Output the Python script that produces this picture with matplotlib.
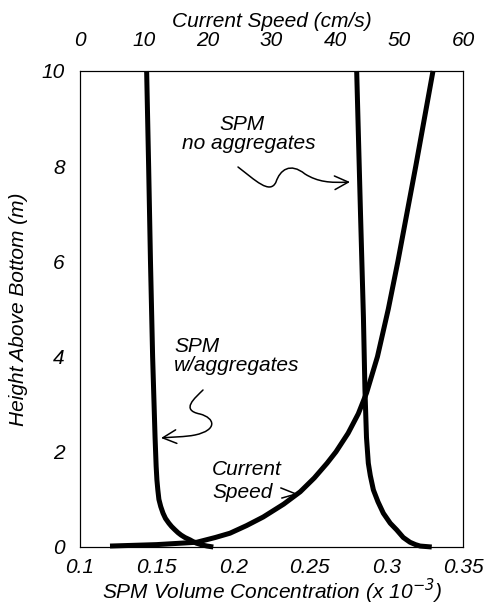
import matplotlib
matplotlib.use("Agg")
import matplotlib.pyplot as plt
from matplotlib.path import Path
from matplotlib.patches import FancyArrowPatch

plt.rcParams['font.family'] = ['Liberation Sans', 'DejaVu Sans']
plt.rcParams['font.style'] = 'italic'

# ---- data ----
height_agg = [10, 8, 6, 4, 2.3, 1.7, 1.41, 1.2, 1.0, 0.85, 0.71, 0.6, 0.5, 0.43, 0.36, 0.3,
              0.25, 0.2, 0.15, 0.11, 0.08, 0.06, 0.04, 0.02, 0.0]
conc_agg = [0.1435, 0.1448, 0.146, 0.1474, 0.149, 0.1497, 0.1502, 0.1508, 0.1515, 0.1527,
            0.1542, 0.1558, 0.158, 0.1598, 0.162, 0.164, 0.166, 0.1685, 0.1718, 0.174,
            0.176, 0.178, 0.180, 0.183, 0.187]

height_noagg = [10, 7, 4.83, 3.3, 2.3, 1.76, 1.5, 1.2, 0.95, 0.71, 0.5, 0.36, 0.2, 0.1, 0.05, 0.02, 0.0]
conc_noagg = [0.2806, 0.2831, 0.285, 0.286, 0.2870, 0.2882, 0.2895, 0.2915, 0.2945, 0.298,
              0.3025, 0.3067, 0.311, 0.3154, 0.319, 0.322, 0.3296]

height_speed = [10, 8, 6, 5, 4, 3.24, 2.8, 2.39, 2.0, 1.76, 1.45, 1.16, 0.9, 0.63,
                0.45, 0.29, 0.2, 0.10, 0.05, 0.02]
speed = [55.3, 52.6, 49.8, 48.3, 46.6, 44.9, 43.6, 42.0, 40.1, 38.7, 36.7, 34.5, 31.9,
         28.7, 26.1, 23.5, 21.2, 18.3, 12.0, 4.7]

conc_ticks = [0.1, 0.15, 0.2, 0.25, 0.3, 0.35]
conc_ticklabels = ['0.1', '0.15', '0.2', '0.25', '0.3', '0.35']
speed_ticks = [0, 10, 20, 30, 40, 50, 60]
height_ticks = [0, 2, 4, 6, 8, 10]

FS = 15
W, H = 486, 607
fig = plt.figure(figsize=(W / 100, H / 100), dpi=100)
L, R, T, B = 80, 463, 71, 547
ax = fig.add_axes([L / W, (H - B) / H, (R - L) / W, (B - T) / H])

lw = 3.6
ax.plot(conc_agg, height_agg, color='black', lw=lw, clip_on=False, solid_capstyle='butt',
        solid_joinstyle='round')
ax.plot(conc_noagg, height_noagg, color='black', lw=lw, clip_on=False, solid_capstyle='butt',
        solid_joinstyle='round')
ax.set_xlim(0.1, 0.35)
ax.set_ylim(0, 10)
ax.set_xticks(conc_ticks)
ax.set_xticklabels(conc_ticklabels)
ax.set_yticks(height_ticks)
ax.tick_params(axis='x', length=0, labelsize=FS, pad=8)
ax.tick_params(axis='y', length=0, labelsize=FS, pad=11)
ax.set_xlabel('SPM Volume Concentration (x 10$^{\\mathit{-3}}$)', fontsize=FS, labelpad=0)
ax.set_ylabel('Height Above Bottom (m)', fontsize=FS, labelpad=10)

ax2 = ax.twiny()
ax2.plot(speed, height_speed, color='black', lw=lw, clip_on=False, solid_capstyle='butt',
         solid_joinstyle='round')
ax2.set_xlim(0, 60)
ax2.set_xticks(speed_ticks)
ax2.tick_params(length=0, labelsize=FS, pad=15)
ax2.set_xlabel('Current Speed (cm/s)', fontsize=FS, labelpad=3)

for a in (ax, ax2):
    for s in a.spines.values():
        s.set_linewidth(0.8)

# ---- annotations (pixel positions converted to axes fraction) ----
def fx(x):
    return (x - L) / (R - L)

def fy(y):
    return (B - y) / (B - T)

def P(x, y):
    return (fx(x), fy(y))

ax.text(fx(242), fy(130), 'SPM', transform=ax.transAxes, ha='center', va='baseline', fontsize=FS)
ax.text(fx(249), fy(149), 'no aggregates', transform=ax.transAxes, ha='center', va='baseline', fontsize=FS)

ax.text(fx(174), fy(352), 'SPM', transform=ax.transAxes, ha='left', va='baseline', fontsize=FS)
ax.text(fx(174), fy(371), 'w/aggregates', transform=ax.transAxes, ha='left', va='baseline', fontsize=FS)

ax.text(fx(212), fy(475), 'Current', transform=ax.transAxes, ha='left', va='baseline', fontsize=FS)
ax.text(fx(212), fy(498), 'Speed', transform=ax.transAxes, ha='left', va='baseline', fontsize=FS)

C4 = Path.CURVE4
verts1 = [P(238, 167), P(255, 180), P(270, 195), P(276, 182),
          P(280, 170), P(290, 162), P(305, 174),
          P(318, 182), P(330, 183), P(350, 182)]
codes1 = [Path.MOVETO] + [C4] * 9
arr1 = FancyArrowPatch(path=Path(verts1, codes1), arrowstyle='->,head_length=0.7,head_width=0.35',
                       mutation_scale=14, lw=1.1, color='black', transform=ax.transAxes)
ax.add_patch(arr1)

verts2 = [P(203, 390), P(195, 398), P(180, 410), P(200, 414),
          P(215, 418), P(218, 430), P(195, 435),
          P(185, 437), P(172, 437), P(161, 438)]
codes2 = [Path.MOVETO] + [C4] * 9
arr2 = FancyArrowPatch(path=Path(verts2, codes2), arrowstyle='->,head_length=0.7,head_width=0.35',
                       mutation_scale=14, lw=1.1, color='black', transform=ax.transAxes)
ax.add_patch(arr2)

ax.plot([fx(281), fx(296), fx(282)], [fy(488), fy(494), fy(498)], color='black', lw=1.1,
        transform=ax.transAxes)

fig.savefig('out.png', dpi=100)
